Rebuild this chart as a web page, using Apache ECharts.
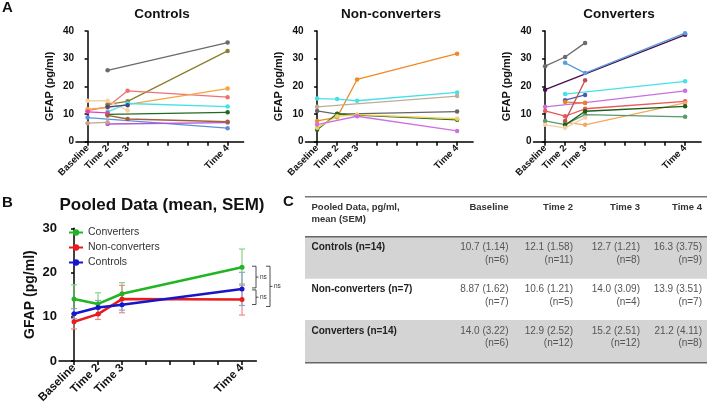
<!DOCTYPE html>
<html>
<head>
<meta charset="utf-8">
<script src="https://cdn.jsdelivr.net/npm/echarts@6/dist/echarts.min.js"></script>
<style>
  html, body { margin: 0; padding: 0; background: #fff; }
  #chart { width: 709px; height: 410px; }
</style>
</head>
<body>
<div id="chart"></div>
<script>
// time points (x positions on the value axis) and their labels
const times = [0, 1, 2, 7];
const timeLabels = ['Baseline', 'Time 2', 'Time 3', 'Time 4'];

// panel A: individual participants, values at Baseline, Time 2, Time 3, Time 4
const controlsValues = [
  [null, 25.8, null, 35.8],
  [null, 13.5, 14.6, 32.8],
  [11.2, 12.6, 18.4, 16.1],
  [11.8, 12.3, null, 19.2],
  [14.8, 14.8, 11.3, null],
  [null, 10.8, 13.8, 12.7],
  [null, 12.6, 13.2, null],
  [null, 9.9, null, 10.6],
  [10.8, 10.4, null, null],
  [8.7, null, null, 4.9],
  [null, 6.4, null, 6.9],
  [6.7, 7.0, null, null],
  [null, 9.5, 8.2, 7.2]
];
const controlsColors = ['#6b6b6b', '#8a7f2a', '#ee7272', '#f5a445', '#f7cfa0', '#44e2e8', '#3b4a8a',
  '#1f6b1f', '#e040b8', '#5b8fe0', '#b455d4', '#c4a484', '#a0603c'];

const nonConvValues = [
  [7.5, 8.8, 22.5, 31.8],
  [15.6, 15.4, 14.8, 17.8],
  [12.6, null, null, 16.5],
  [11.1, 10.0, null, 10.9],
  [4.3, 10.1, 9.6, 7.9],
  [5.0, 9.2, 9.8, 8.3],
  [6.2, null, 9.2, 3.9]
];
const nonConvColors = ['#f08a24', '#44e2e8', '#bcae96', '#666666', '#1f6b1f', '#f2cf5c', '#d070e0'];

const convValues = [
  [27.3, 30.6, 35.7, null],
  [18.8, null, null, 38.6],
  [null, 28.5, 24.8, 39.2],
  [null, 15.0, 16.9, null],
  [null, 17.2, null, 21.8],
  [12.6, null, 14.1, 18.4],
  [11.1, 9.2, 11.9, 14.6],
  [null, 7.0, 6.1, 14.0],
  [null, 14.3, 14.0, null],
  [null, 7.5, 22.2, null],
  [7.5, 6.2, 9.8, 9.0],
  [null, 6.0, 11.0, 12.8],
  [6.1, 5.0, 8.7, null]
];
const convColors = ['#6b6b6b', '#4b0c4b', '#5b9be0', '#4a5aa8', '#44e2e8', '#c870e0', '#e85858',
  '#f4a860', '#e8841c', '#c05050', '#5a9a6a', '#1a5e1a', '#f5d0a8'];

// panel B / C: pooled data
const groups = ['Converters', 'Non-converters', 'Controls'];
const groupColors = ['#22b522', '#e81c1c', '#1616cc'];
const barColors = ['#86d486', '#e88a8a', '#8aa4c8'];
const groupMeans = {
  'Controls': [10.7, 12.1, 12.7, 16.3],
  'Non-converters': [8.87, 10.6, 14.0, 13.9],
  'Converters': [14.0, 12.9, 15.2, 21.2]
};
const groupSems = {
  'Controls': [1.14, 1.58, 1.21, 3.75],
  'Non-converters': [1.62, 1.21, 3.09, 3.51],
  'Converters': [3.22, 2.52, 2.51, 4.11]
};
const groupNs = {
  'Controls': [6, 11, 8, 9],
  'Non-converters': [7, 5, 4, 7],
  'Converters': [6, 12, 12, 8]
};
const groupTotals = { 'Controls': 14, 'Non-converters': 7, 'Converters': 14 };
const tableRows = ['Controls', 'Non-converters', 'Converters'];

const FONT = '"Liberation Sans", Arial, sans-serif';
const chart = echarts.init(document.getElementById('chart'));

function xAxisOf(grid, min, max, fs) {
  return {
    gridIndex: grid, type: 'value', min: min, max: max,
    axisLine: { show: true, lineStyle: { color: '#000', width: 1.5 } },
    axisTick: { show: true, customValues: [0, 1, 2, 3, 4, 5, 6, 7], length: 4,
      lineStyle: { color: '#000', width: 1.5 } },
    axisLabel: { customValues: times, rotate: 45, margin: 5, fontSize: fs, fontWeight: 'bold',
      color: '#111', fontFamily: FONT,
      formatter: v => timeLabels[times.indexOf(v)] || '' },
    splitLine: { show: false }
  };
}
function yAxisOf(grid, max, fs, nameFs, gap) {
  return {
    gridIndex: grid, type: 'value', min: 0, max: max, interval: 10,
    name: 'GFAP (pg/ml)', nameLocation: 'middle', nameGap: gap,
    nameTextStyle: { fontSize: nameFs, fontWeight: 'bold', color: '#111', fontFamily: FONT },
    axisLine: { show: true, lineStyle: { color: '#000', width: 1.5 } },
    axisTick: { show: true, length: 3, lineStyle: { color: '#000', width: 1.5 } },
    axisLabel: { fontSize: fs, fontWeight: 'bold', color: '#111', margin: 2, fontFamily: FONT },
    splitLine: { show: false }
  };
}

const aLeft = [76, 305.5, 533.5];
const grids = aLeft.map(l => ({ left: l, top: 31, width: 167.6, height: 110.7 }));
grids.push({ left: 59, top: 228.3, width: 197.4, height: 132.7 });

const xAxes = [0, 1, 2].map(i => xAxisOf(i, -0.58, 7.8, 9.5));
xAxes.push(xAxisOf(3, -0.625, 7.6, 11.5));
const yAxes = [0, 1, 2].map(i => yAxisOf(i, 40, 10, 11, 21));
yAxes.push(yAxisOf(3, 30, 13, 14, 22));

const series = [];
function addPeople(values, colors, grid, tag) {
  values.forEach((vals, k) => {
    const pts = [];
    vals.forEach((v, j) => { if (v != null) pts.push([times[j], v]); });
    series.push({
      name: tag + (k + 1), type: 'line', xAxisIndex: grid, yAxisIndex: grid,
      data: pts, symbol: 'circle', symbolSize: 4.5, silent: true,
      itemStyle: { color: colors[k] }, lineStyle: { color: colors[k], width: 1.3 }
    });
  });
}
addPeople(controlsValues, controlsColors, 0, 'ctrl');
addPeople(nonConvValues, nonConvColors, 1, 'nonconv');
addPeople(convValues, convColors, 2, 'conv');

groups.forEach((g, i) => {
  series.push({
    name: g + ' SEM', type: 'custom', xAxisIndex: 3, yAxisIndex: 3, z: 1, silent: true,
    data: times.map((t, j) => [t, groupMeans[g][j], groupSems[g][j]]),
    renderItem: function (params, api) {
      const x = api.value(0), m = api.value(1), s = api.value(2);
      const hi = api.coord([x, m + s]), lo = api.coord([x, m - s]);
      const st = { stroke: barColors[i], lineWidth: 1.2 };
      return { type: 'group', children: [
        { type: 'line', shape: { x1: hi[0], y1: hi[1], x2: lo[0], y2: lo[1] }, style: st },
        { type: 'line', shape: { x1: hi[0] - 3, y1: hi[1], x2: hi[0] + 3, y2: hi[1] }, style: st },
        { type: 'line', shape: { x1: lo[0] - 3, y1: lo[1], x2: lo[0] + 3, y2: lo[1] }, style: st }
      ] };
    }
  });
});
groups.forEach((g, i) => {
  series.push({
    name: g, type: 'line', xAxisIndex: 3, yAxisIndex: 3, z: 3,
    data: times.map((t, j) => [t, groupMeans[g][j]]),
    symbol: 'circle', symbolSize: 5,
    itemStyle: { color: groupColors[i] }, lineStyle: { color: groupColors[i], width: 2.5 }
  });
});

const titleStyle = { fontFamily: FONT, fontWeight: 'bold', color: '#111' };
chart.setOption({
  animation: false,
  title: [
    { text: 'Controls', left: 157, top: 2, textAlign: 'center', textStyle: Object.assign({ fontSize: 13.5 }, titleStyle) },
    { text: 'Non-converters', left: 386, top: 2, textAlign: 'center', textStyle: Object.assign({ fontSize: 13.5 }, titleStyle) },
    { text: 'Converters', left: 614, top: 2, textAlign: 'center', textStyle: Object.assign({ fontSize: 13.5 }, titleStyle) },
    { text: 'Pooled Data (mean, SEM)', left: 157, top: 192, textAlign: 'center', textStyle: Object.assign({ fontSize: 17 }, titleStyle) }
  ],
  legend: {
    data: groups, left: 63, top: 222, orient: 'vertical', itemGap: 4,
    itemWidth: 14, itemHeight: 8,
    textStyle: { fontSize: 10.5, color: '#333', fontFamily: FONT }
  },
  grid: grids, xAxis: xAxes, yAxis: yAxes, series: series
});

// graphic elements: panel letters, significance brackets, table C
const gfx = [];
function txt(t, x, y, size, weight, color, align) {
  gfx.push({ type: 'text', x: x, y: y, silent: true, style: {
    text: t, fontSize: size, fontWeight: weight, fontFamily: FONT, fill: color,
    textAlign: align || 'left', textVerticalAlign: 'middle' } });
}
function seg(x1, y1, x2, y2, color, w) {
  gfx.push({ type: 'line', silent: true, shape: { x1: x1, y1: y1, x2: x2, y2: y2 },
    style: { stroke: color, lineWidth: w } });
}
txt('A', 2, 8, 15, 'bold', '#111');
txt('B', 2, 203, 15, 'bold', '#111');
txt('C', 283, 202, 15, 'bold', '#111');

// brackets next to the Time 4 means
const lastIdx = times.length - 1;
const yOf = g => chart.convertToPixel({ gridIndex: 3 }, [times[lastIdx], groupMeans[g][lastIdx]])[1];
function bracket(y1, y2, x, label) {
  seg(x - 4, y1, x, y1, '#222', 0.8);
  seg(x - 4, y2, x, y2, '#222', 0.8);
  seg(x, y1, x, y2, '#222', 0.8);
  seg(x, (y1 + y2) / 2, x + 2.5, (y1 + y2) / 2, '#222', 0.8);
  txt(label, x + 4, (y1 + y2) / 2, 6.5, 'normal', '#333');
}
const yConv = yOf('Converters'), yCtrl = yOf('Controls'), yNon = yOf('Non-converters');
bracket(yConv - 1, yCtrl - 1, 256, 'ns');
bracket(yCtrl + 1, yNon + 5, 256, 'ns');
bracket(yConv - 1, yNon + 7, 270, 'ns');

// table
const tblLeft = 305, tblRight = 707;
const colRight = [508.5, 573, 640, 702];
const rowTop = [236.7, 278.3, 320];
const rowH = 42;
[0, 2].forEach(r => gfx.push({ type: 'rect', silent: true, z: -1,
  shape: { x: tblLeft, y: rowTop[r], width: tblRight - tblLeft, height: rowH },
  style: { fill: '#d4d4d4' } }));
seg(tblLeft, 196.7, tblRight, 196.7, '#777', 1.5);
seg(tblLeft, 236.7, tblRight, 236.7, '#666', 1.5);
seg(tblLeft, 362.7, tblRight, 362.7, '#666', 1.5);
txt('Pooled Data, pg/ml,', 311.5, 207, 9.5, 'bold', '#333');
txt('mean (SEM)', 311.5, 219.5, 9.5, 'bold', '#333');
timeLabels.forEach((t, j) => txt(t, colRight[j], 207, 9.5, 'bold', '#333', 'right'));
tableRows.forEach((g, r) => {
  const y = rowTop[r];
  txt(g + ' (n=' + groupTotals[g] + ')', 311.5, y + 11, 10, 'bold', '#222');
  times.forEach((t, j) => {
    txt(groupMeans[g][j].toFixed(g === 'Non-converters' && j === 0 ? 2 : 1) + ' (' +
      groupSems[g][j].toFixed(2) + ')', colRight[j], y + 11, 10, 'normal', '#555', 'right');
    txt('(n=' + groupNs[g][j] + ')', colRight[j], y + 23.5, 10, 'normal', '#555', 'right');
  });
});

chart.setOption({ graphic: gfx });
</script>
</body>
</html>
